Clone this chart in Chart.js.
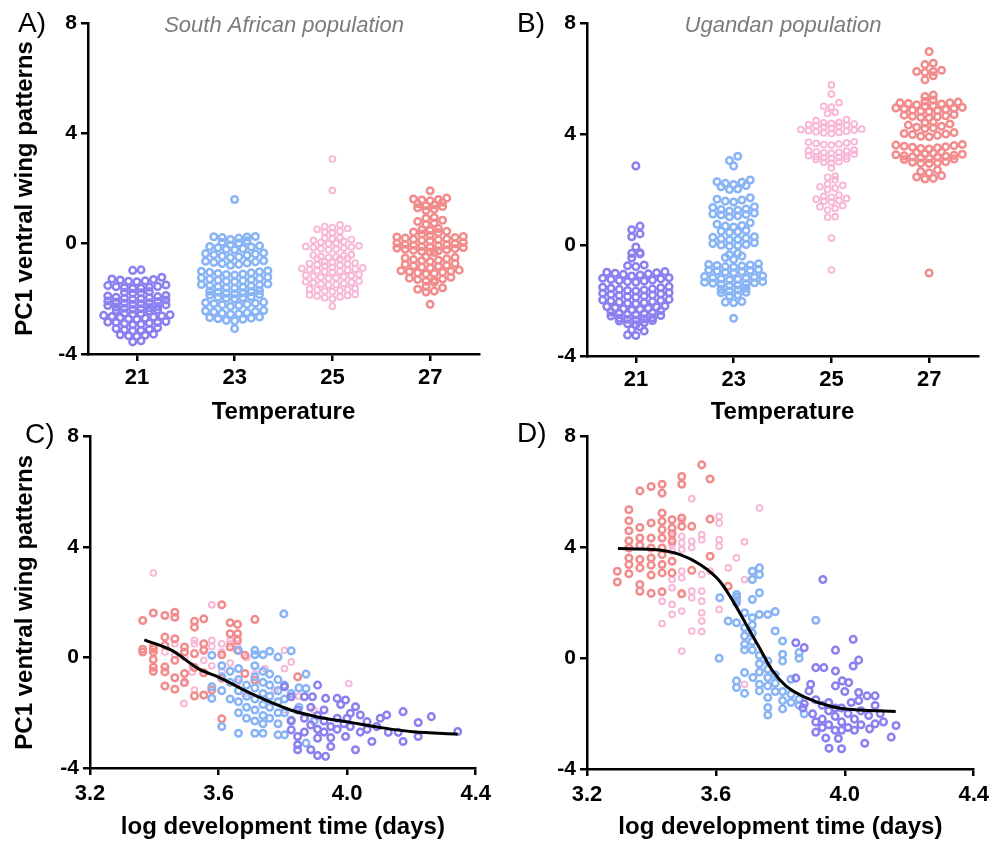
<!DOCTYPE html>
<html>
<head>
<meta charset="utf-8">
<title>PC1 ventral wing patterns</title>
<script src="https://cdn.jsdelivr.net/npm/chart.js@4.4.1/dist/chart.umd.min.js"></script>
<style>
  body { margin: 0; background: #fff; }
  #wrap { position: relative; width: 995px; height: 846px; background: #fff; }
  canvas { position: absolute; }
</style>
</head>
<body>
<div id="wrap">
  <canvas id="panelA" style="left:0px;top:0px" width="497" height="425"></canvas>
  <canvas id="panelB" style="left:497px;top:0px" width="498" height="425"></canvas>
  <canvas id="panelC" style="left:0px;top:420px" width="497" height="426"></canvas>
  <canvas id="panelD" style="left:497px;top:420px" width="498" height="426"></canvas>
</div>
<script>
// rearing temperatures and axis ticks
const temperatures = [21, 23, 25, 27];
const yTicks = [-4, 0, 4, 8];
const devTicks = [3.2, 3.6, 4.0, 4.4];

// PC1 scores, South African population, per temperature
const southAfrica21 = [-0.95, -0.97, -1.22, -1.28, -1.30, -1.32, -1.35, -1.36, -1.38,
  -1.50, -1.52, -1.55, -1.56, -1.58, -1.60, -1.62, -1.63, -1.74, -1.76, -1.78, -1.80,
  -1.88, -1.90, -1.92, -1.94, -1.96, -1.98, -2.00, -2.02, -2.04,
  -2.08, -2.10, -2.12, -2.14, -2.16, -2.18, -2.20, -2.22, -2.24,
  -2.28, -2.30, -2.32, -2.34, -2.36, -2.38, -2.40, -2.42, -2.44,
  -2.52, -2.54, -2.56, -2.58, -2.60, -2.62, -2.64, -2.66, -2.68, -2.70, -2.72, -2.74,
  -2.82, -2.84, -2.86, -2.86, -2.88, -2.90, -2.92, -2.94,
  -3.05, -3.08, -3.10, -3.12, -3.14, -3.16, -3.28, -3.30, -3.32, -3.34, -3.36, -3.52, -3.56];
const southAfrica23 = [1.6, 0.26, 0.25, 0.24, 0.22, 0.20, 0.15, 0.10, 0.05, 0.02,
  -0.05, -0.08, -0.10, -0.12, -0.15, -0.18, -0.20, -0.22,
  -0.34, -0.36, -0.38, -0.40, -0.42, -0.45, -0.48, -0.50,
  -0.62, -0.64, -0.66, -0.68, -0.70, -0.72, -0.75, -0.78,
  -0.98, -1.00, -1.02, -1.04, -1.06, -1.08, -1.10, -1.12, -1.14,
  -1.22, -1.24, -1.26, -1.28, -1.30, -1.32, -1.34, -1.36, -1.38,
  -1.46, -1.48, -1.50, -1.52, -1.54, -1.56, -1.58, -1.60, -1.62,
  -1.70, -1.72, -1.74, -1.76, -1.78, -1.80, -1.82, -1.84, -1.86,
  -1.92, -1.94, -1.96, -1.98, -2.00,
  -2.12, -2.14, -2.16, -2.18, -2.20, -2.22, -2.24, -2.28,
  -2.42, -2.44, -2.46, -2.48, -2.50, -2.52, -2.54, -2.56,
  -2.66, -2.68, -2.70, -2.72, -2.74, -2.78, -2.80, -3.08];
const southAfrica25 = [3.07, 1.93, 0.68, 0.62, 0.58, 0.55, 0.52, 0.45, 0.42, 0.40,
  0.22, 0.20, 0.18, 0.15, 0.12, 0.08, 0.05, 0.02, 0.00,
  -0.08, -0.10, -0.12, -0.14, -0.16, -0.18, -0.20, -0.22,
  -0.40, -0.42, -0.44, -0.46, -0.48, -0.50, -0.52, -0.54, -0.56,
  -0.66, -0.68, -0.70, -0.72, -0.74, -0.76, -0.78, -0.80,
  -0.86, -0.88, -0.90, -0.92, -0.94, -0.96, -0.98, -1.00, -1.02, -1.04,
  -1.12, -1.14, -1.16, -1.18, -1.20, -1.22, -1.24, -1.26,
  -1.36, -1.38, -1.40, -1.42, -1.44, -1.46, -1.48, -1.50,
  -1.62, -1.64, -1.66, -1.68, -1.70, -1.72, -1.74,
  -1.84, -1.86, -1.88, -1.90, -1.93, -1.96, -2.00, -2.27];
const southAfrica27 = [1.92, 1.65, 1.62, 1.60, 1.58, 1.55, 1.50, 1.45,
  1.40, 1.38, 1.35, 1.30, 1.25, 1.20, 0.95, 0.92, 0.85, 0.80, 0.75, 0.70,
  0.55, 0.50, 0.48, 0.45, 0.42, 0.40, 0.35, 0.30,
  0.26, 0.24, 0.22, 0.20, 0.18, 0.16, 0.14, 0.12, 0.10,
  0.04, 0.02, 0.00, -0.02, -0.04, -0.06, -0.08, -0.10, -0.12,
  -0.14, -0.16, -0.18, -0.20, -0.22, -0.24, -0.26, -0.28, -0.30, -0.32,
  -0.48, -0.50, -0.52, -0.55, -0.58, -0.60, -0.62, -0.65,
  -0.72, -0.75, -0.78, -0.80, -0.82, -0.85, -0.88,
  -0.96, -0.98, -1.00, -1.02, -1.04, -1.06, -1.08, -1.10,
  -1.22, -1.25, -1.28, -1.30, -1.32, -1.36, -1.40,
  -1.55, -1.60, -1.65, -1.72, -1.75, -2.20];

// PC1 scores, Ugandan population, per temperature
const uganda21 = [2.85, 0.68, 0.55, 0.40, 0.30, -0.07, -0.28, -0.30, -0.32, -0.47, -0.72, -0.75, -0.78,
  -0.96, -0.98, -1.00, -1.02, -1.04, -1.06, -1.08, -1.12,
  -1.18, -1.20, -1.22, -1.24, -1.26, -1.28, -1.30, -1.32, -1.34,
  -1.50, -1.52, -1.54, -1.56, -1.58, -1.60, -1.62, -1.64, -1.66,
  -1.72, -1.74, -1.76, -1.78, -1.80, -1.82, -1.84, -1.86, -1.88,
  -1.96, -1.98, -2.00, -2.02, -2.04, -2.06, -2.08, -2.10, -2.12,
  -2.20, -2.22, -2.24, -2.26, -2.28, -2.30, -2.32, -2.34, -2.36,
  -2.42, -2.44, -2.46, -2.48, -2.50, -2.52, -2.54, -2.56,
  -2.62, -2.64, -2.66, -2.68, -2.70, -2.72, -2.74,
  -2.80, -2.84, -2.88, -2.95, -3.06, -3.10, -3.24, -3.26];
const uganda23 = [3.20, 3.04, 2.85, 2.34, 2.28, 2.26, 2.22, 2.18, 2.14, 2.10, 2.02, 2.00,
  1.70, 1.65, 1.62, 1.58, 1.55, 1.38, 1.35, 1.30, 1.28, 1.25, 1.22,
  1.15, 1.12, 1.10, 1.08, 1.05, 1.02, 0.80, 0.75, 0.70, 0.68, 0.65,
  0.52, 0.50, 0.48, 0.45, 0.30, 0.28, 0.25, 0.22, 0.20, 0.18,
  0.08, 0.05, 0.02, 0.00, -0.02, -0.04, -0.30, -0.35, -0.40, -0.45, -0.52,
  -0.68, -0.70, -0.72, -0.74, -0.76, -0.78, -0.80,
  -0.88, -0.90, -0.92, -0.94, -0.96, -0.98, -1.00,
  -1.12, -1.14, -1.16, -1.18, -1.20, -1.22, -1.24, -1.26,
  -1.32, -1.34, -1.36, -1.38, -1.40, -1.42, -1.44, -1.46,
  -1.56, -1.60, -1.62, -1.66, -1.70, -1.72, -1.80, -1.84,
  -2.04, -2.06, -2.08, -2.64];
const uganda25 = [5.77, 5.44, 5.13, 5.00, 4.97, 4.78, 4.74, 4.52, 4.48,
  4.42, 4.40, 4.38, 4.36, 4.34, 4.32, 4.30, 4.28, 4.26,
  4.20, 4.18, 4.16, 4.14, 4.12, 4.10, 4.08, 4.06, 4.04, 4.02,
  3.72, 3.70, 3.68, 3.66, 3.64, 3.62, 3.60,
  3.42, 3.40, 3.38, 3.36, 3.34, 3.32, 3.30, 3.28,
  3.22, 3.20, 3.18, 3.16, 3.14, 3.12, 3.10, 3.08,
  3.00, 2.98, 2.95, 2.78, 2.48, 2.44, 2.35,
  2.20, 2.15, 2.10, 2.05, 2.00,
  1.80, 1.75, 1.72, 1.68, 1.65, 1.60, 1.58, 1.55,
  1.42, 1.38, 1.32, 1.26, 1.02, 1.00, 0.25, -0.90];
const uganda27 = [6.97, 6.55, 6.50, 6.30, 6.25, 6.22, 6.25, 6.10, 5.95,
  5.40, 5.35, 5.22, 5.18, 5.15, 5.12, 5.10, 5.08, 5.05, 5.02, 5.00, 5.12,
  4.96, 4.94, 4.92, 4.90, 4.88, 4.86, 4.84, 4.82, 4.80,
  4.70, 4.68, 4.66, 4.64, 4.62, 4.60, 4.58,
  4.43, 4.40, 4.36, 4.32, 4.28, 4.24, 4.20, 4.22,
  4.05, 4.02, 4.00, 3.98, 3.95, 3.92, 3.90,
  3.62, 3.60, 3.58, 3.56, 3.54, 3.52, 3.50, 3.48, 3.46,
  3.35, 3.33, 3.31, 3.29, 3.27, 3.25, 3.23, 3.21,
  3.20, 3.18, 3.16, 3.14, 3.12, 3.10, 3.08,
  3.00, 2.98, 2.96, 2.95, 2.94,
  2.70, 2.65, 2.60, 2.50, 2.45, 2.40, 2.38, -1.01];

// [log development time, PC1], South African population
const saDev21 = [[3.805,-1.06],[3.908,-1.0],[3.826,-1.42],[3.867,-1.42],[3.892,-1.42],[3.933,-1.48],[3.969,-1.48],
  [3.995,-1.54],[3.98,-1.7],[4.026,-1.78],[4.123,-2.08],[4.174,-1.96],[4.262,-2.14],[4.221,-2.35],[4.344,-2.68],
  [4.159,-2.71],[4.128,-2.71],[4.077,-3.04],[4.174,-3.04],[4.221,-2.86],[4.026,-3.34],[3.995,-2.86],[3.949,-3.22],
  [3.933,-3.58],[3.908,-3.55],[3.846,-3.34],[3.846,-3.16],[3.887,-3.34],[3.908,-2.92],[3.846,-2.86],[3.826,-2.62],
  [3.867,-2.2],[3.887,-2.44],[3.908,-2.6],[3.928,-2.3],[3.928,-2.7],[3.949,-2.5],[3.949,-2.9],[3.969,-2.2],
  [3.969,-2.6],[3.99,-2.4],[4.01,-2.02],[4.041,-2.08],[4.062,-2.32],[4.092,-2.5],[4.01,-2.5],[4.041,-2.7],
  [3.887,-1.8],[3.846,-1.9],[3.928,-1.9],[4.062,-2.6],[4.103,-2.2],[3.867,-2.7],[3.908,-2.1],[3.826,-2.3],[4.0,-2.2]];
const saDev23 = [[3.803,1.58],[3.579,0.08],[3.662,0.26],[3.713,0.26],[3.713,0.1],[3.738,0.1],[3.759,0.23],
  [3.785,0.02],[3.826,0.24],[3.872,-0.6],[3.579,-1.06],[3.579,-1.48],[3.61,-0.3],[3.61,-0.7],[3.61,-1.2],
  [3.636,-0.5],[3.636,-0.9],[3.636,-1.5],[3.662,-0.4],[3.662,-0.8],[3.662,-1.2],[3.662,-1.6],[3.662,-2.0],
  [3.687,-1.0],[3.687,-1.4],[3.687,-1.8],[3.687,-2.2],[3.713,-0.3],[3.713,-0.7],[3.713,-1.1],[3.713,-1.5],
  [3.713,-1.9],[3.713,-2.3],[3.738,-0.5],[3.738,-0.9],[3.738,-1.3],[3.738,-1.7],[3.738,-2.1],[3.738,-2.4],
  [3.759,-0.6],[3.759,-1.0],[3.759,-1.4],[3.759,-1.8],[3.759,-2.2],[3.785,-0.8],[3.785,-1.2],[3.785,-1.6],
  [3.785,-2.0],[3.785,-2.4],[3.805,-1.0],[3.805,-1.5],[3.805,-2.0],[3.826,-1.3],[3.826,-2.26],[3.85,-1.1],
  [3.85,-1.8],[3.61,-2.5],[3.662,-2.74],[3.713,-2.74],[3.738,-2.74],[3.785,-2.8],[3.805,-2.8],[3.872,-1.12],
  [3.872,-3.1],[3.897,-2.3]];
const saDev25 = [[3.397,3.06],[3.579,1.91],[3.464,0.5],[3.433,0.2],[3.464,0.1],[3.494,0.0],[3.525,0.62],
  [3.525,0.5],[3.554,0.3],[3.579,0.62],[3.579,0.4],[3.61,0.5],[3.61,0.2],[3.636,0.5],[3.636,0.6],[3.659,0.7],
  [3.659,0.4],[3.687,0.0],[3.518,-0.52],[3.518,-0.3],[3.492,-0.94],[3.492,-1.66],[3.525,-1.18],[3.554,-0.1],
  [3.579,-0.3],[3.61,-0.5],[3.636,-0.2],[3.659,-0.9],[3.713,-0.6],[3.744,-0.4],[3.805,-0.4],[3.826,-0.16],
  [4.005,-0.94],[3.805,0.26],[3.897,-1.9],[3.805,-1.9],[3.775,-1.2],[3.85,-1.4],[3.682,-1.3]];
const saDev27 = [[3.364,1.34],[3.397,1.61],[3.433,1.52],[3.464,1.64],[3.464,1.46],[3.525,1.31],[3.525,1.10],
  [3.554,1.40],[3.610,1.91],[3.636,1.26],[3.659,1.20],[3.713,1.38],[3.397,0.32],[3.397,0.20],[3.397,0.4],
  [3.433,0.74],[3.433,0.44],[3.464,0.68],[3.494,0.38],[3.494,0.20],[3.525,0.14],[3.554,0.26],[3.433,-0.34],
  [3.433,-0.52],[3.397,-0.07],[3.464,-0.73],[3.494,-0.58],[3.525,-0.36],[3.433,-1.03],[3.464,-1.15],
  [3.525,-1.39],[3.554,-1.36],[3.579,-1.18],[3.636,0.86],[3.659,0.86],[3.659,0.62],[3.636,0.38],[3.659,0.26],
  [3.682,0.08],[3.682,-0.58],[3.610,-2.22],[3.713,-0.82],[3.846,-0.70],[3.364,0.30],[3.364,0.20],
  [3.397,-0.35],[3.397,-0.5],[3.464,-0.1],[3.494,-0.9],[3.554,-0.55],[3.61,-0.75],[3.61,0.1],[3.554,0.5]];

// [log development time, PC1], Ugandan population
const ugDev21 = [[3.932,2.84],[3.848,0.56],[3.874,0.38],[3.971,0.29],[4.026,0.68],[4.043,-0.07],[4.026,-0.28],
  [3.91,-0.34],[3.935,-0.34],[3.971,-0.46],[3.848,-0.72],[3.874,-1.65],[3.894,-0.94],[3.971,-1.0],[3.992,-0.82],
  [4.012,-0.88],[4.043,-1.24],[4.069,-1.36],[4.094,-1.36],[4.043,-1.53],[4.094,-1.71],[4.074,-2.07],
  [4.094,-2.37],[4.077,-2.55],[4.159,-2.43],[4.144,-2.85],[4.062,-3.07],[3.99,-3.27],[3.951,-3.25],[3.91,-2.67],
  [3.941,-2.88],[3.9,-2.01],[3.889,-1.18],[3.91,-1.5],[3.93,-1.7],[3.95,-1.9],[3.97,-2.1],[3.99,-2.3],
  [4.01,-2.5],[3.93,-2.2],[3.95,-2.4],[3.97,-2.6],[3.99,-1.8],[4.01,-2.0],[4.03,-2.2],[4.05,-1.9],[3.95,-1.6],
  [3.97,-1.8],[3.99,-2.6],[4.03,-2.6],[4.05,-2.4],[3.91,-2.3],[3.93,-2.5],[4.0,-1.2],[4.02,-1.6],[3.87,-1.8],
  [3.98,-2.9],[4.11,-2.0],[4.12,-2.3]];
const ugDev23 = [[3.735,3.26],[3.713,3.14],[3.735,3.02],[3.713,2.84],[3.735,2.36],[3.713,2.12],[3.612,2.18],
  [3.664,2.3],[3.664,2.2],[3.664,2.1],[3.664,2.0],[3.638,1.34],[3.664,1.28],[3.689,1.64],[3.713,1.46],
  [3.735,1.58],[3.761,1.58],[3.784,1.68],[3.784,0.98],[3.807,0.62],[3.807,0.14],[3.807,-0.1],[3.833,-0.76],
  [3.61,0.0],[3.664,-0.82],[3.664,-1.06],[3.689,-1.27],[3.689,-0.52],[3.715,-0.7],[3.735,-0.94],[3.735,-1.18],
  [3.761,-1.42],[3.761,-1.78],[3.761,-2.05],[3.784,-1.2],[3.807,-1.83],[3.807,-1.53],[3.833,-1.6],
  [3.858,-1.48],[3.874,-2.01],[3.91,1.37],[3.689,1.1],[3.689,0.8],[3.689,0.5],[3.689,0.3],[3.713,1.2],
  [3.713,0.9],[3.713,0.6],[3.713,0.3],[3.735,0.1],[3.735,-0.2],[3.735,-0.5],[3.761,-0.1],[3.761,-0.4],
  [3.761,-0.7],[3.761,-1.0],[3.784,-0.6],[3.784,-0.9],[3.807,-1.2],[3.833,-1.3],[3.858,-1.7],[3.858,0.0],[3.858,0.2]];
const ugDev25 = [[3.525,5.76],[3.61,5.12],[3.61,4.88],[3.61,4.28],[3.61,4.04],[3.735,5.42],[3.689,4.2],
  [3.664,3.62],[3.638,3.26],[3.689,2.84],[3.61,1.76],[3.494,4.94],[3.494,4.4],[3.494,4.16],[3.494,3.92],
  [3.525,4.22],[3.525,4.0],[3.556,4.46],[3.556,4.28],[3.464,3.86],[3.464,2.84],[3.464,2.54],[3.464,1.94],
  [3.464,1.58],[3.494,2.3],[3.494,1.7],[3.525,2.42],[3.525,2.18],[3.556,2.42],[3.556,2.06],[3.556,1.64],
  [3.556,1.34],[3.556,0.96],[3.525,0.98],[3.433,1.25],[3.433,2.06],[3.494,0.26],[3.689,-0.94],[3.582,3.14],
  [3.556,3.02],[3.494,3.14],[3.494,2.9],[3.464,4.1],[3.464,4.4]];
const ugDev27 = [[3.294,3.14],[3.294,2.75],[3.33,5.36],[3.33,4.96],[3.33,4.6],[3.33,4.24],[3.33,3.98],
  [3.33,3.62],[3.33,3.38],[3.33,3.05],[3.364,6.04],[3.364,4.72],[3.364,4.34],[3.364,4.08],[3.364,3.56],
  [3.364,3.26],[3.364,2.66],[3.364,2.42],[3.399,6.2],[3.399,4.88],[3.399,4.34],[3.399,3.98],[3.399,3.62],
  [3.399,3.36],[3.399,3.0],[3.399,2.34],[3.433,6.28],[3.433,5.96],[3.433,5.24],[3.433,4.94],[3.433,4.64],
  [3.433,4.34],[3.433,3.98],[3.433,3.74],[3.433,3.38],[3.433,3.08],[3.433,2.4],[3.464,5.0],[3.464,4.7],
  [3.464,4.22],[3.464,3.08],[3.464,4.5],[3.464,3.5],[3.494,6.56],[3.494,6.28],[3.494,5.06],[3.494,4.76],
  [3.494,2.33],[3.525,4.76],[3.525,3.17],[3.556,6.98],[3.582,6.47],[3.582,5.02],[3.582,3.68],[3.638,2.6]];

// fitted curves traced along their length
const saFit = [[3.369,0.64],[3.456,0.25],[3.538,-0.41],[3.60,-0.71],[3.702,-1.31],[3.826,-1.91],
  [3.908,-2.15],[4.0,-2.33],[4.102,-2.53],[4.205,-2.69],[4.344,-2.77]];
const ugFit = [[3.296,3.96],[3.407,3.92],[3.489,3.74],[3.551,3.38],[3.612,2.78],[3.653,2.06],[3.694,1.22],
  [3.735,0.38],[3.776,-0.46],[3.817,-1.0],[3.879,-1.42],[3.961,-1.75],[4.043,-1.87],[4.158,-1.92]];

const colors = { 21: '#8a80f0', 23: '#88b4f5', 25: '#f8b6d6', 27: '#f28c8c' };
const FONT = '"Liberation Sans", Arial, Helvetica, sans-serif';

// plot box is 391 x 331 px for 8 degrees x 12 PC1 units
const PX_PER_DEG = 391 / 8;
const PX_PER_PC = 331 / 12;

// scatter-dot layout: values close together share a row, lowest in the middle
const swarm = (values, center, gapPx) => {
  const sorted = values.slice().sort((a, b) => a - b);
  const rows = [];
  let row = [];
  let start = null;
  sorted.forEach(v => {
    if (start === null || (v - start) * PX_PER_PC > 4.5) {
      if (row.length) rows.push(row);
      row = [];
      start = v;
    }
    row.push(v);
  });
  if (row.length) rows.push(row);

  const pts = [];
  rows.forEach(r => {
    const slots = r.map((_, i) => i - (r.length - 1) / 2);
    slots.sort((a, b) => Math.abs(a) - Math.abs(b) || a - b);
    r.forEach((v, i) => pts.push({ x: center + slots[i] * gapPx / PX_PER_DEG, y: v }));
  });
  return pts;
};

const toPoints = pairs => pairs.map(([x, y]) => ({ x, y }));

const dots = (data, temp) => {
  const small = temp === 25;
  return {
    data,
    showLine: false,
    pointStyle: 'circle',
    pointRadius: small ? 2.9 : 3.3,
    pointBorderWidth: small ? 1.9 : 2.5,
    pointBorderColor: colors[temp],
    pointBackgroundColor: 'rgba(0,0,0,0)',
    pointHoverRadius: 0
  };
};

const fitLine = pairs => ({
  data: toPoints(pairs),
  showLine: true,
  borderColor: '#000',
  borderWidth: 3,
  pointRadius: 0,
  cubicInterpolationMode: 'monotone',
  fill: false
});

const gridOpts = { drawOnChartArea: false, color: '#000', lineWidth: 2.5, tickLength: 7 };
const borderOpts = { color: '#000', width: 2.5 };

const yScale = (width, withTitle) => ({
  type: 'linear',
  min: -4,
  max: 8,
  afterBuildTicks: s => { s.ticks = yTicks.map(v => ({ value: v })); },
  afterFit: s => { s.width = width; },
  ticks: { color: '#000', padding: 4, font: { family: FONT, size: 21, weight: 'bold' } },
  grid: gridOpts,
  border: borderOpts,
  title: {
    display: withTitle,
    text: 'PC1 ventral wing patterns',
    color: '#000',
    font: { family: FONT, size: 24, weight: 'bold', lineHeight: 1 },
    padding: { top: 13, bottom: 0 }
  }
});

const xScale = (height, min, max, ticks, title, fmt, pad, titlePad) => ({
  type: 'linear',
  min,
  max,
  afterBuildTicks: s => { s.ticks = ticks.map(v => ({ value: v })); },
  afterFit: s => { s.height = height; },
  ticks: {
    color: '#000', padding: pad, maxRotation: 0, autoSkip: false,
    font: { family: FONT, size: 22, weight: 'bold' },
    callback: fmt
  },
  grid: gridOpts,
  border: borderOpts,
  title: {
    display: true,
    text: title,
    color: '#000',
    font: { family: FONT, size: 24, weight: 'bold', lineHeight: 1 },
    padding: { top: 0, bottom: titlePad }
  }
});

// panel letter and population caption
const panelText = {
  id: 'panelText',
  afterDraw(chart, args, opts) {
    const ctx = chart.ctx;
    ctx.save();
    ctx.fillStyle = '#000';
    ctx.textAlign = 'left';
    ctx.textBaseline = 'alphabetic';
    ctx.font = `28px ${FONT}`;
    ctx.fillText(opts.letter, opts.letterX, opts.letterY);
    if (opts.caption) {
      ctx.fillStyle = '#7b7b7b';
      ctx.textAlign = 'center';
      ctx.font = `italic 22px ${FONT}`;
      ctx.fillText(opts.caption, opts.captionX, opts.captionY);
    }
    ctx.restore();
  }
};

const makePanel = (id, datasets, scales, padding, text) => new Chart(document.getElementById(id), {
  type: 'scatter',
  data: { datasets },
  options: {
    responsive: false,
    animation: false,
    events: [],
    layout: { padding },
    scales,
    plugins: { legend: { display: false }, tooltip: { enabled: false }, panelText: text }
  },
  plugins: [panelText]
});

const tempLabel = v => String(v);
const devLabel = v => v.toFixed(1);

const saGroups = [southAfrica21, southAfrica23, southAfrica25, southAfrica27];
const ugGroups = [uganda21, uganda23, uganda25, uganda27];

makePanel('panelA',
  temperatures.map((t, i) => dots(swarm(saGroups[i], t, t === 25 ? 7.6 : 8.3), t)),
  { x: xScale(71, 20, 28, temperatures, 'Temperature', tempLabel, 4, 0.5), y: yScale(88, true) },
  { top: 23, right: 18, left: 0, bottom: 0 },
  { letter: 'A)', letterX: 18, letterY: 32, caption: 'South African population', captionX: 284, captionY: 32 });

makePanel('panelB',
  temperatures.map((t, i) => dots(swarm(ugGroups[i], t, t === 25 ? 7.6 : 8.3), t)),
  { x: xScale(69, 20, 28, temperatures, 'Temperature', tempLabel, 4, 0.5), y: yScale(90, false) },
  { top: 23, right: 17, left: 0, bottom: 0 },
  { letter: 'B)', letterX: 20, letterY: 32, caption: 'Ugandan population', captionX: 286, captionY: 32 });

makePanel('panelC',
  [fitLine(saFit), dots(toPoints(saDev21), 21), dots(toPoints(saDev23), 23),
   dots(toPoints(saDev27), 27), dots(toPoints(saDev25), 25)],
  { x: xScale(78, 3.2, 4.4, devTicks, 'log development time (days)', devLabel, 6, 6.5), y: yScale(90, true) },
  { top: 15, right: 17, left: 0, bottom: 0 },
  { letter: 'C)', letterX: 25, letterY: 23 });

makePanel('panelD',
  [fitLine(ugFit), dots(toPoints(ugDev21), 21), dots(toPoints(ugDev23), 23),
   dots(toPoints(ugDev27), 27), dots(toPoints(ugDev25), 25)],
  { x: xScale(77, 3.2, 4.4, devTicks, 'log development time (days)', devLabel, 6, 6.5), y: yScale(90, false) },
  { top: 15, right: 17, left: 0, bottom: 0 },
  { letter: 'D)', letterX: 20, letterY: 22 });
</script>
</body>
</html>
